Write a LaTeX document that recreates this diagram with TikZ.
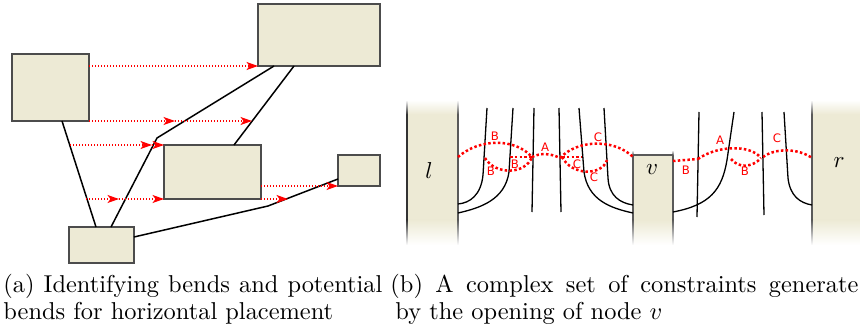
\documentclass[tikz,border=0pt]{standalone}
\usepackage{fontspec}
\newfontfamily\lblfont{DejaVu Sans}
\usetikzlibrary{arrows.meta}
\definecolor{boxfill}{RGB}{237,234,213}
\newcommand\fadebar[7]{%
  \fill[#7] (#1,#4) rectangle (#2,#5);
  \shade[top color=white,bottom color=#7] (#1,#3) rectangle (#2,#4+0.3);
  \shade[top color=#7,bottom color=white] (#1,#5-0.3) rectangle (#2,#6);}
\begin{document}
\begin{tikzpicture}[x=1pt,y=-1pt,
  box/.style={draw=black!70, fill=boxfill, line width=1.1pt, inner sep=0pt, outer sep=0pt, rectangle},
  conn/.style={black, line width=1.5pt},
  hint/.style={red, line width=1.1pt, dash pattern=on 1.1pt off 1.9pt, -{Stealth[length=11.5pt,width=8pt,inset=3pt]}},
  curv/.style={black, line width=1.3pt},
  cons/.style={red, line width=2.5pt, dash pattern=on 2.5pt off 2.3pt},
  lbl/.style={text=red, font=\lblfont, scale=1.17, inner sep=0pt},
  captxt/.style={inner sep=0pt, scale=2.44, font=\fontsize{10}{12}\selectfont},
  mlbl/.style={inner sep=0pt, scale=2.3, font=\fontsize{10}{12}\selectfont}]
\useasboundingbox (0,0) rectangle (860,329);

% ---------- (a) ----------
\node[box, minimum width=122pt, minimum height=62pt] (A) at (319,35) {};
\node[box, minimum width=77pt, minimum height=67pt] (B) at (50.5,87.5) {};
\node[box, minimum width=97pt, minimum height=54pt] (C) at (212.5,172) {};
\node[box, minimum width=42pt, minimum height=31pt] (D) at (359,170.5) {};
\node[box, minimum width=65pt, minimum height=36pt] (E) at (101.5,245) {};

\coordinate (k1) at (157,138);
\coordinate (k2) at (268,206);
\draw[conn] ([xshift=50pt]B.south west) -- ([xshift=27pt]E.north west);
\draw[conn] ([xshift=42pt]E.north west) -- (k1) -- ([xshift=16pt]A.south west);
\draw[conn] ([xshift=70pt]C.north west) -- ([xshift=36pt]A.south west);
\draw[conn] ([yshift=-10pt]E.north east) -- (k2) -- ([yshift=7pt]D.south west);

\coordinate (b1) at (175,121);
\coordinate (b2) at (252,121);
\coordinate (c0) at (70,145);
\coordinate (c1) at (152,145);
\coordinate (d0) at (86,199);
\coordinate (d1) at (119,199);
\coordinate (f1) at (288,199);
\draw[hint] ([yshift=-12pt]B.north east) -- (A.south west);
\draw[hint] (B.south east) -- (b1);
\draw[hint] (b1) -- (b2);
\draw[hint] (c0) -- (c1);
\draw[hint] (c1) -- (C.north west);
\draw[hint] (d0) -- (d1);
\draw[hint] (d1) -- (C.south west);
\draw[hint] ([yshift=13pt]C.south east) -- (D.south west);
\draw[hint] (C.south east) -- (f1);

% ---------- (b) ----------
\fadebar{407}{458}{100}{114}{220}{245}{boxfill}
\fadebar{406.4}{407.6}{100}{114}{220}{245}{black!80}
\fadebar{457.4}{458.6}{100}{114}{220}{245}{black!65}
\fill[boxfill] (633,155) rectangle (673,220.3);
\shade[top color=boxfill,bottom color=white] (633,220) rectangle (673,245);
\fadebar{632.4}{633.6}{150}{155}{220}{245}{black!65}
\fadebar{672.4}{673.6}{150}{155}{220}{245}{black!65}
\draw[black!65, line width=1.2pt] (633,155) -- (673,155);
\fadebar{812}{860}{100}{114}{220}{245}{boxfill}
\fadebar{811.4}{812.6}{100}{114}{220}{245}{black!65}

\node[mlbl] (nl) at (429,171) {$l$};
\node[mlbl] (nv) at (652,170) {$v$};
\node[mlbl] (nr) at (839,163) {$r$};

% black curves
\draw[curv] (487,108) -- (483,175) .. controls (481,195) and (470,203) .. (458,204);
\draw[curv] (513,108) -- (509,172) .. controls (505,200) and (480,208) .. (458,213);
\draw[curv] (534,108) -- (532,212);
\draw[curv] (559,108) -- (561,212);
\draw[curv] (579,108) -- (584,172) .. controls (588,200) and (610,208) .. (633,213);
\draw[curv] (604,108) -- (608,178) .. controls (609,196) and (620,203) .. (633,205);
\draw[curv] (699,112) -- (697,217);
\draw[curv] (734,112) -- (727,160) .. controls (722,190) and (710,205) .. (673,212);
\draw[curv] (762,112) -- (764,215);
\draw[curv] (784,112) -- (788,178) .. controls (790,196) and (800,203) .. (812,205);

% red constraint arcs
\draw[cons] (458,157) .. controls (480,138) and (515,138) .. (532,157);
\draw[cons] (485,158) .. controls (495,175) and (525,175) .. (532,157);
\draw[cons] (510,157) -- (532,157);
\draw[cons] (532,157) .. controls (540,153) and (550,153) .. (560,158);
\draw[cons] (560,158) .. controls (578,139) and (615,139) .. (633,157);
\draw[cons] (562,157) .. controls (572,176) and (602,176) .. (607,160);
\draw[cons] (562,157) -- (582,157);
\draw[cons] (673,161) -- (698,159);
\draw[cons] (698,159) .. controls (718,145) and (750,145) .. (760,157);
\draw[cons] (731,159) .. controls (738,168) and (752,168) .. (761,158);
\draw[cons] (763,157) .. controls (775,148) and (798,148) .. (812,158);

\node[lbl] (l1) at (495,136) {B};
\node[lbl] (l2) at (491,171) {B};
\node[lbl] (l3) at (515,164) {B};
\node[lbl] (l4) at (545,147) {A};
\node[lbl] (l5) at (598,137) {C};
\node[lbl] (l6) at (577,164) {C};
\node[lbl] (l7) at (594,177) {C};
\node[lbl] (l8) at (686,170) {B};
\node[lbl] (l9) at (720,140) {A};
\node[lbl] (l10) at (745,171) {B};
\node[lbl] (l11) at (777,138) {C};

% captions
\node[captxt, anchor=base west] (ca1) at (3,292.3) {\makebox[155.3pt][s]{(a) Identifying bends and potential}};
\node[captxt, anchor=base west] (ca2) at (3,319) {bends for horizontal placement};
\node[captxt, anchor=base west] (cb1) at (390,292.3) {\makebox[191.8pt][s]{(b) A complex set of constraints generate}};
\node[captxt, anchor=base west] (cb2) at (395,319) {by the opening of node $v$};
\end{tikzpicture}
\end{document}
